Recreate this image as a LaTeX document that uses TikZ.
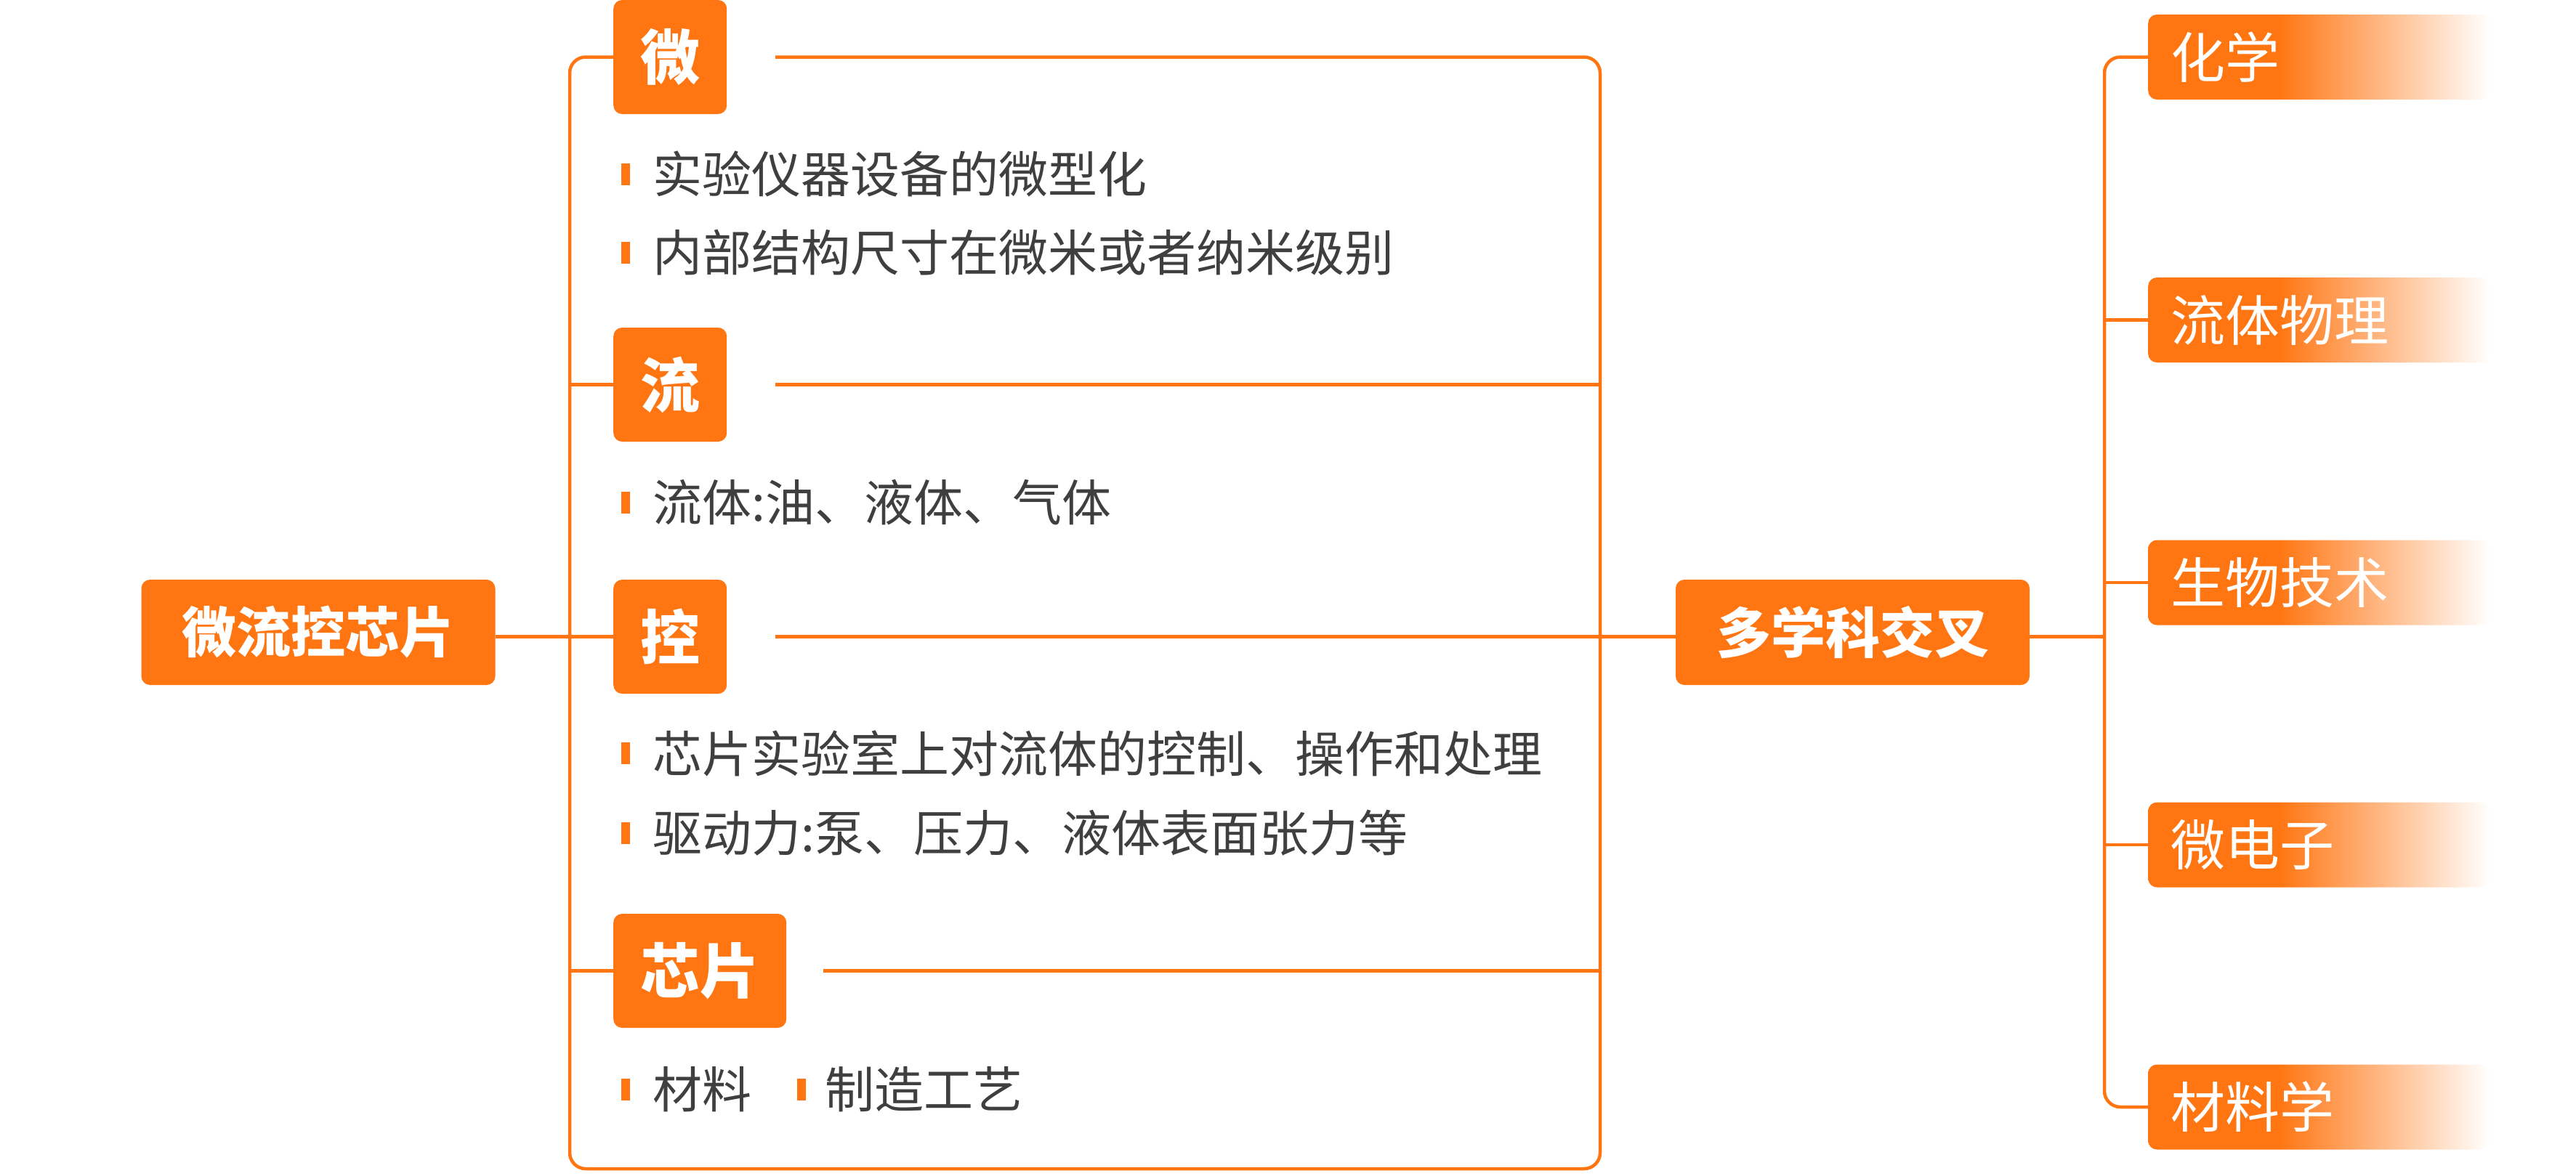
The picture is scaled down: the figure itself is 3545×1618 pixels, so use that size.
\documentclass[tikz,border=0pt]{standalone}
\usepackage{fontspec}
\newfontfamily\cjk{Noto Sans CJK SC}
\usetikzlibrary{calc}
\definecolor{orng}{HTML}{FF7511}
\definecolor{txt}{HTML}{3F3F3F}
\pgfdeclarehorizontalshading{fadebox}{100bp}{color(0bp)=(orng); color(25bp)=(orng); color(44bp)=(orng); color(75bp)=(white); color(100bp)=(white)}
\tikzset{
  ln/.style={draw=orng, line width=4.5pt},
  topic/.style={fill=orng, rounded corners=12pt, text=white, font=\cjk\bfseries\fontsize{82}{90}\selectfont, minimum height=157pt, inner xsep=37pt, inner ysep=0pt, anchor=west},
  mainbox/.style={fill=orng, rounded corners=12pt, text=white, font=\cjk\bfseries\fontsize{75}{85}\selectfont, minimum width=487pt, minimum height=145pt, inner sep=0pt},
  field/.style={shading=fadebox, rounded corners=12pt, text=white, font=\cjk\fontsize{75}{85}\selectfont, minimum height=117pt, text width=408pt, align=left, inner xsep=31pt, inner ysep=0pt, anchor=west},
  item/.style={text=txt, font=\cjk\fontsize{68}{80}\selectfont, anchor=west, inner sep=0pt},
  bar/.style={fill=orng, minimum width=12pt, minimum height=30pt, inner sep=0pt}
}
\begin{document}
\begin{tikzpicture}[x=1pt,y=-1pt]
\useasboundingbox (0,0) rectangle (3545,1618);
% frame corners
\coordinate (fl) at (784,78.5);
\coordinate (fbl) at (784,1609);
\coordinate (fbr) at (2202,1609);
\coordinate (ftr) at (2202,78.5);
% nodes
\node[mainbox] (root) at (438,870.5) {微流控芯片};
\node[topic] (wei) at (844,78.5) {微};
\node[topic] (liu) at (844,529.5) {流};
\node[topic] (kong) at (844,876.5) {控};
\node[topic] (xin) at (844,1336.5) {芯片};
\node[mainbox] (duo) at (2549.5,870.5) {多学科交叉};
\node[field] (f1) at (2956,78.5) {化学};
\node[field] (f2) at (2956,440.5) {流体物理};
\node[field] (f3) at (2956,802) {生物技术};
\node[field] (f4) at (2956,1163) {微电子};
\node[field] (f5) at (2956,1524) {材料学};
% gap coordinates
\coordinate (weiR) at (1067,78.5);
\coordinate (liuL) at (784,529.5);
\coordinate (liuR) at (1067,529.5);
\coordinate (liuE) at (2202,529.5);
\coordinate (kongR) at (1067,876.5);
\coordinate (xinL) at (784,1336.5);
\coordinate (xinR) at (1133,1336.5);
\coordinate (xinE) at (2202,1336.5);
\coordinate (vt) at (2896,78.5);
\coordinate (vb) at (2896,1524);
% frame
\draw[ln, rounded corners=22pt] (wei.west) -- (fl) -- (fbl) -- (fbr) -- (ftr) -- (weiR);
\draw[ln] (liuL) -- (liu.west);
\draw[ln] (liuR) -- (liuE);
\draw[ln] (xinL) -- (xin.west);
\draw[ln] (xinR) -- (xinE);
\draw[ln] (root.east |- kong.west) -- (kong.west);
\draw[ln] (kongR) -- (duo.west |- kong.west);
\draw[ln] (duo.east |- kong.west) -- (vt |- kong.west);
% right tree
\draw[ln, rounded corners=22pt] (f1.west) -- (vt) -- (vb) -- (f5.west);
\draw[ln] (vt |- f2.west) -- (f2.west);
\draw[ln] (vt |- f3.west) -- (f3.west);
\draw[ln] (vt |- f4.west) -- (f4.west);
% bullets
\node[bar] (b1) at (861,240) {};
\node[item] (t1) at (898,240) {实验仪器设备的微型化};
\node[bar] (b2) at (861,348) {};
\node[item] (t2) at (898,348) {内部结构尺寸在微米或者纳米级别};
\node[bar] (b3) at (861,692) {};
\node[item] (t3) at (898,692) {流体:油、液体、气体};
\node[bar] (b4) at (861,1037) {};
\node[item] (t4) at (898,1037) {芯片实验室上对流体的控制、操作和处理};
\node[bar] (b5) at (861,1147) {};
\node[item] (t5) at (898,1147) {驱动力:泵、压力、液体表面张力等};
\node[bar] (b6) at (861,1500) {};
\node[item] (t6) at (898,1500) {材料};
\node[bar] (b7) at (1102.5,1500) {};
\node[item] (t7) at (1135,1500) {制造工艺};
\end{tikzpicture}
\end{document}
